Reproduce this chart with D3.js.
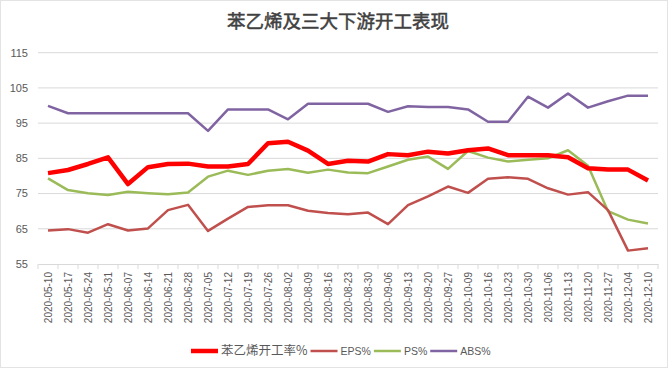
<!DOCTYPE html>
<html>
<head>
<meta charset="utf-8">
<script src="https://cdn.jsdelivr.net/npm/d3@7"></script>
<style>
  body { margin: 0; background: #fff; }
  svg { display: block; }
</style>
</head>
<body>
<svg id="chart"></svg>
<script>
const width = 668;
const height = 368;

const dates = [
  '2020-05-10', '2020-05-17', '2020-05-24', '2020-05-31', '2020-06-07', '2020-06-14',
  '2020-06-21', '2020-06-28', '2020-07-05', '2020-07-12', '2020-07-19', '2020-07-26',
  '2020-08-02', '2020-08-09', '2020-08-16', '2020-08-23', '2020-08-30', '2020-09-06',
  '2020-09-13', '2020-09-20', '2020-09-27', '2020-10-09', '2020-10-16', '2020-10-23',
  '2020-10-30', '2020-11-06', '2020-11-13', '2020-11-20', '2020-11-27', '2020-12-04',
  '2020-12-10'
];

const styrene = [
  80.8, 81.7, 83.4, 85.3, 77.7, 82.5, 83.4, 83.5, 82.7, 82.7, 83.4, 89.3,
  89.7, 87.2, 83.4, 84.3, 84.1, 86.2, 85.9, 86.9, 86.4, 87.3, 87.8, 85.9,
  85.9, 85.9, 85.3, 82.2, 81.8, 81.8, 78.7
];
const eps = [
  64.5, 64.9, 63.9, 66.3, 64.5, 65.1, 70.3, 71.8, 64.4, 67.9, 71.2, 71.7,
  71.7, 70.1, 69.5, 69.1, 69.6, 66.3, 71.7, 74.2, 77.0, 75.2, 79.2, 79.6,
  79.2, 76.5, 74.7, 75.4, 70.3, 58.8, 59.5
];
const ps = [
  79.3, 76.0, 75.1, 74.6, 75.5, 75.1, 74.8, 75.3, 79.8, 81.5, 80.3, 81.5,
  82.0, 80.9, 81.8, 81.0, 80.8, 82.7, 84.6, 85.5, 82.0, 87.1, 85.2, 84.1,
  84.6, 85.0, 87.3, 82.9, 70.0, 67.6, 66.5
];
const abs = [
  99.9, 97.8, 97.8, 97.8, 97.8, 97.8, 97.8, 97.8, 92.8, 98.9, 98.9, 98.9,
  96.1, 100.5, 100.5, 100.5, 100.5, 98.2, 99.8, 99.6, 99.6, 98.9, 95.4, 95.4,
  102.5, 99.4, 103.4, 99.4, 101.2, 102.8, 102.8
];

const yTicks = [55, 65, 75, 85, 95, 105, 115];

const series = [
  { name: '苯乙烯开工率%', values: styrene, color: '#ff0000', w: 4.5 },
  { name: 'EPS%', values: eps, color: '#c0504d', w: 2.5 },
  { name: 'PS%', values: ps, color: '#9bbb59', w: 2.5 },
  { name: 'ABS%', values: abs, color: '#8064a2', w: 2.5 }
];

const latin = '"Liberation Sans", Arial, sans-serif';
const cjk = '"Noto Sans CJK SC", "Liberation Sans", sans-serif';

const svg = d3.select('#chart')
  .attr('width', width)
  .attr('height', height);

svg.append('rect')
  .attr('x', 0.5).attr('y', 0.5)
  .attr('width', width - 1).attr('height', height - 1)
  .attr('fill', '#fff')
  .attr('stroke', '#e3e3e3');

const x = d3.scaleBand()
  .domain(dates)
  .range([38, 658])
  .padding(0);

const y = d3.scaleLinear()
  .domain([55, 115])
  .range([264, 52.7]);

// gridlines
svg.append('g')
  .selectAll('line')
  .data(yTicks.slice(1))
  .join('line')
    .attr('x1', 38).attr('x2', 658)
    .attr('y1', d => y(d)).attr('y2', d => y(d))
    .attr('stroke', '#d9d9d9')
    .attr('stroke-width', 1);

// y labels
svg.append('g')
  .selectAll('text')
  .data(yTicks)
  .join('text')
    .attr('x', 28)
    .attr('y', d => y(d))
    .attr('dy', '0.35em')
    .attr('text-anchor', 'end')
    .attr('font-family', latin)
    .attr('font-size', 11)
    .attr('fill', '#595959')
    .text(d => d);

// x axis
const xAxis = d3.axisBottom(x).tickSize(0).tickPadding(0);
const gx = svg.append('g')
  .attr('transform', 'translate(0,264)')
  .call(xAxis);
gx.select('.domain').attr('stroke', '#d9d9d9');
gx.selectAll('.tick text')
  .attr('transform', 'rotate(-90)')
  .attr('x', -8)
  .attr('y', 0)
  .attr('dy', '0.35em')
  .attr('text-anchor', 'end')
  .attr('font-family', latin)
  .attr('font-size', 10)
  .attr('fill', '#595959');

// category boundary ticks
svg.append('g')
  .selectAll('line')
  .data(dates.concat(['end']))
  .join('line')
    .attr('x1', (d, i) => 38 + i * x.bandwidth())
    .attr('x2', (d, i) => 38 + i * x.bandwidth())
    .attr('y1', 264).attr('y2', 269)
    .attr('stroke', '#d9d9d9');

// lines
const line = d3.line()
  .x((d, i) => x(dates[i]) + x.bandwidth() / 2)
  .y(d => y(d));

svg.append('g')
  .selectAll('path')
  .data(series.slice().reverse())
  .join('path')
    .attr('d', d => line(d.values))
    .attr('fill', 'none')
    .attr('stroke', d => d.color)
    .attr('stroke-width', d => d.w)
    .attr('stroke-linejoin', 'round');

// title
svg.append('text')
  .attr('x', 338)
  .attr('y', 22)
  .attr('dy', '0.35em')
  .attr('text-anchor', 'middle')
  .attr('font-family', cjk)
  .attr('font-size', 18.5)
  .attr('fill', '#404040')
  .attr('stroke', '#404040')
  .attr('stroke-width', 0.5)
  .text('苯乙烯及三大下游开工表现');

// legend
const legend = svg.append('g').attr('transform', 'translate(0,351)');
let lx = 191;
series.forEach((s, i) => {
  legend.append('line')
    .attr('x1', lx).attr('x2', lx + 27)
    .attr('y1', 0).attr('y2', 0)
    .attr('stroke', s.color)
    .attr('stroke-width', s.w);
  const t = legend.append('text')
    .attr('x', lx + 30)
    .attr('y', 0)
    .attr('dy', '0.35em')
    .attr('font-family', i === 0 ? cjk : latin)
    .attr('font-size', i === 0 ? 12.5 : 10.5)
    .attr('fill', '#595959')
    .text(s.name);
  lx += 30 + t.node().getComputedTextLength() + 3;
});
</script>
</body>
</html>
